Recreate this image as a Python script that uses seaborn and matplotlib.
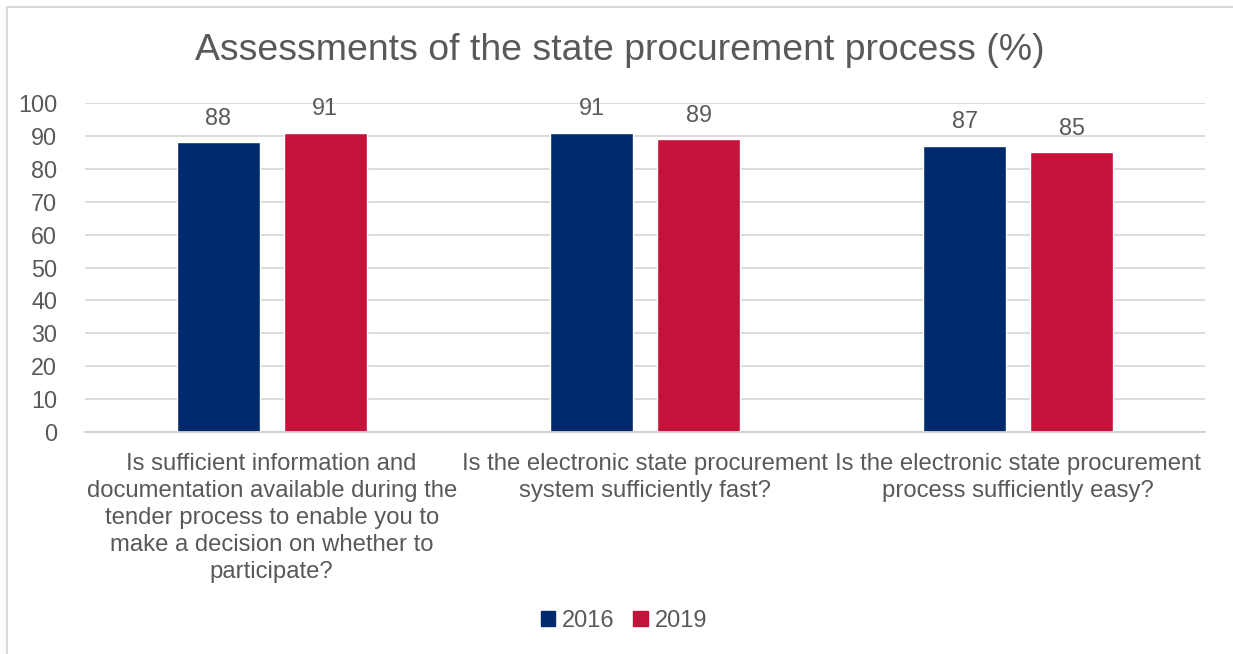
import matplotlib
matplotlib.use("Agg")
import matplotlib.pyplot as plt
import matplotlib.patches as mpatches
import seaborn as sns
import pandas as pd

categories = [
    "Is sufficient information and\ndocumentation available during the\ntender process to enable you to\nmake a decision on whether to\nparticipate?",
    "Is the electronic state procurement\nsystem sufficiently fast?",
    "Is the electronic state procurement\nprocess sufficiently easy?",
]
years = ["2016", "2019"]
values_2016 = [88, 91, 87]
values_2019 = [91, 89, 85]
yticks = [0, 10, 20, 30, 40, 50, 60, 70, 80, 90, 100]

colors = {"2016": "#002A6C", "2019": "#C4123A"}
text_color = "#595959"

df = pd.DataFrame({
    "question": categories * 2,
    "year": [years[0]] * 3 + [years[1]] * 3,
    "value": values_2016 + values_2019,
})

sns.set_theme(style="white")
plt.rcParams["font.family"] = ["Liberation Sans", "DejaVu Sans"]

fig = plt.figure(figsize=(12.33, 6.54), dpi=100)
ax = fig.add_axes([0.0689, 0.3394, 0.9084, 0.5031])

sns.barplot(data=df, x="question", y="value", hue="year", hue_order=years,
            palette=colors, width=0.574, gap=0.225, saturation=1,
            errorbar=None, ax=ax, legend=True)

for cont in ax.containers:
    ax.bar_label(cont, fmt="%d", padding=9, fontsize=16.8, color=text_color)

ax.set_ylim(0, 100)
ax.set_xlim(-0.5, 2.5)
ax.set_yticks(yticks)
ax.yaxis.grid(True, color="#D9D9D9", linewidth=1.3)
ax.set_axisbelow(True)
for side in ["left", "right", "top"]:
    ax.spines[side].set_visible(False)
ax.spines["bottom"].set_color("#D0D0D0")
ax.spines["bottom"].set_linewidth(1.3)
ax.tick_params(axis="y", length=0, pad=20, labelsize=16.8, labelcolor=text_color)
ax.tick_params(axis="x", length=0, pad=15, labelsize=17.2, labelcolor=text_color)
for lbl in ax.get_xticklabels():
    lbl.set_linespacing(1.3)
ax.set_xlabel("")
ax.set_ylabel("")

fig.text(0.503, 1 - 50 / 654, "Assessments of the state procurement process (%)",
         ha="center", va="center", fontsize=26.9, color=text_color)

handles = [mpatches.Patch(color=colors[y], label=y) for y in years]
ax.legend(handles=handles, loc="center", bbox_to_anchor=(0.506, 0.05),
          bbox_transform=fig.transFigure, ncol=2, frameon=False,
          fontsize=17, labelcolor=text_color, handlelength=0.6,
          handleheight=0.6, handletextpad=0.3, columnspacing=0.8)

# light frame around the chart area
fig.patches.append(mpatches.Rectangle((7 / 1233, -0.05), 1.2, 1.05 - 7 / 654,
                                      transform=fig.transFigure, fill=False,
                                      edgecolor="#D9D9D9", linewidth=1.5))

fig.savefig("out.png", dpi=100, facecolor="white")
